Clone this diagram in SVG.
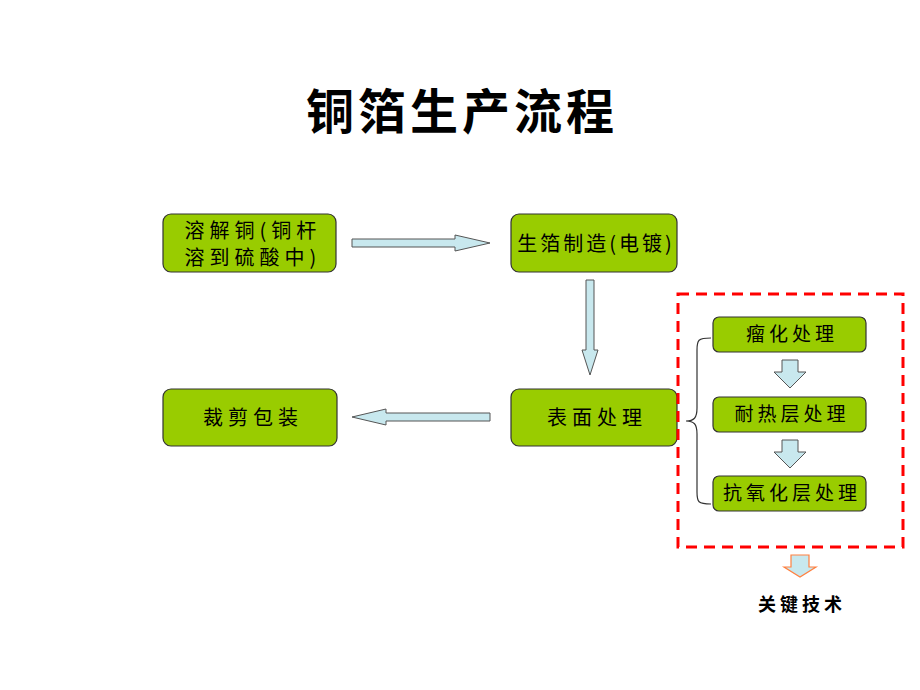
<svg xmlns="http://www.w3.org/2000/svg" width="920" height="690" viewBox="0 0 920 690">
<style>
.box{fill:#99cc00;stroke:#333;stroke-width:1.2}
.t{font-family:"Noto Sans CJK SC","Noto Sans",sans-serif;font-size:20px;fill:#000;text-anchor:middle;letter-spacing:5px}
.s{font-family:"Noto Sans CJK SC","Noto Sans",sans-serif;font-size:19px;fill:#000;text-anchor:middle;letter-spacing:4px}
.arr{fill:#c8e8ee;stroke:#555;stroke-width:1}
</style>
<rect width="920" height="690" fill="#fff"/>
<text x="462" y="129" font-family="Noto Sans CJK SC,sans-serif" font-size="48" font-weight="bold" text-anchor="middle" letter-spacing="4">铜箔生产流程</text>

<g id="n1"><rect class="box" x="163" y="214" width="173" height="58" rx="8"/>
<text class="t" x="253" y="238">溶解铜(铜杆</text><text class="t" x="253" y="265">溶到硫酸中)</text></g>
<g id="n2"><rect class="box" x="511" y="214" width="166" height="58" rx="8"/>
<text class="t" x="596" y="251" style="letter-spacing:3px">生箔制造(电镀)</text></g>
<g id="n3"><rect class="box" x="511" y="389" width="166" height="57" rx="8"/>
<text class="t" x="597" y="425">表面处理</text></g>
<g id="n4"><rect class="box" x="163" y="389" width="174" height="57" rx="8"/>
<text class="t" x="253" y="425">裁剪包装</text></g>

<g id="keybox">
<rect x="678" y="294" width="225" height="253" fill="none" stroke="#ff0000" stroke-width="3" stroke-dasharray="11,7"/>
</g>
<g id="k1"><rect class="box" x="713" y="317" width="153" height="35" rx="6"/>
<text class="s" x="792" y="341">瘤化处理</text></g>
<g id="k2"><rect class="box" x="713" y="397" width="153" height="35" rx="6"/>
<text class="s" x="792" y="421">耐热层处理</text></g>
<g id="k3"><rect class="box" x="713" y="476" width="153" height="35" rx="6"/>
<text class="s" x="792" y="500">抗氧化层处理</text></g>

<g id="connectors">
<polygon class="arr" points="352,239 455,239 455,235 490,243 455,251 455,247 352,247"/>
<polygon class="arr" points="490,413 386,413 386,409 352,417 386,425 386,421 490,421"/>
<polygon class="arr" points="586,280 594,280 594,350 598,350 590,375 582,350 586,350"/>
<polygon class="arr" points="782,360 798,360 798,372 806,372 790,388 774,372 782,372"/>
<polygon class="arr" points="782,440 798,440 798,452 806,452 790,468 774,452 782,452"/>
<polygon points="791,555 809,555 809,567 816,567 800,577 784,567 791,567" fill="#c8e8ee" stroke="#ff8040" stroke-width="1.2"/>
<path d="M711,338 C698,338 697,340 697,350 L697,408 C697,418 694,421 686,421 C694,421 697,424 697,434 L697,492 C697,502 698,504 711,504" fill="none" stroke="#333" stroke-width="1.2"/>
</g>
<text x="802" y="611" font-family="Noto Sans CJK SC,sans-serif" font-size="18" font-weight="bold" text-anchor="middle" letter-spacing="4">关键技术</text>
</svg>
